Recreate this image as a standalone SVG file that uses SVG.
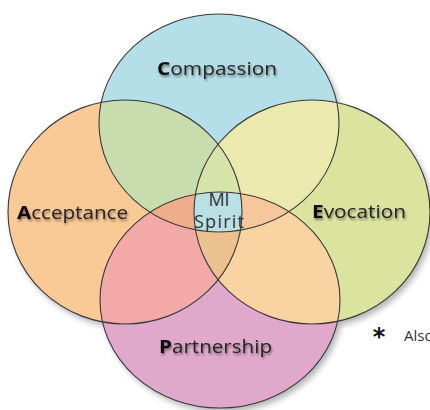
<svg xmlns="http://www.w3.org/2000/svg" width="430" height="410" viewBox="0 0 430 410">
<style>
.lbl{font-family:"Open Sans","Liberation Sans",sans-serif;font-size:18px;fill:#262626}
.b{font-weight:bold;fill:#111}
.mid{font-family:"Open Sans","Liberation Sans",sans-serif;font-size:18px;fill:#333}
.ol{fill:none;stroke:#3a3a3a;stroke-width:1.1}
</style>
<defs>
<ellipse id="eC" cx="219" cy="123" rx="120" ry="109"/>
<ellipse id="eA" cx="125" cy="212" rx="117" ry="112"/>
<ellipse id="eE" cx="312" cy="212" rx="118" ry="112"/>
<ellipse id="eP" cx="220" cy="300" rx="120" ry="108"/>
<clipPath id="cC"><use href="#eC"/></clipPath>
<clipPath id="cA"><use href="#eA"/></clipPath>
<clipPath id="cE"><use href="#eE"/></clipPath>
<clipPath id="cP"><use href="#eP"/></clipPath>
<filter id="shadow" x="-10%" y="-10%" width="130%" height="130%">
<feGaussianBlur stdDeviation="3"/>
<feOffset dx="3" dy="4"/>
</filter>
<filter id="tsh" x="-10%" y="-30%" width="120%" height="180%">
<feGaussianBlur in="SourceAlpha" stdDeviation="1.3"/>
<feOffset dx="1" dy="2" result="o"/>
<feComponentTransfer in="o" result="s"><feFuncA type="linear" slope="0.45"/></feComponentTransfer>
<feMerge><feMergeNode in="s"/><feMergeNode in="SourceGraphic"/></feMerge>
</filter>
</defs>
<rect width="430" height="410" fill="#ffffff"/>
<g id="shadows" filter="url(#shadow)" fill="#000" opacity="0.3">
<use href="#eC"/><use href="#eA"/><use href="#eE"/><use href="#eP"/>
</g>
<g id="fills">
<use href="#eA" fill="#f9c996"/>
<use href="#eE" fill="#dae49e"/>
<use href="#eC" fill="#b5dfe8"/>
<use href="#eP" fill="#e0a9cb"/>
</g>
<g id="overlaps">
<g clip-path="url(#cC)"><use href="#eA" fill="#c9dcae"/><use href="#eE" fill="#ebe9ad"/></g>
<g clip-path="url(#cP)"><use href="#eA" fill="#f2a9a8"/><use href="#eE" fill="#fad3a2"/></g>
<g clip-path="url(#cC)"><g clip-path="url(#cA)"><use href="#eE" fill="#d6e3a9"/></g></g>
<g clip-path="url(#cC)"><g clip-path="url(#cA)"><use href="#eP" fill="#efad8c"/></g></g>
<g clip-path="url(#cC)"><g clip-path="url(#cE)"><use href="#eP" fill="#f6c79c"/></g></g>
<g clip-path="url(#cA)"><g clip-path="url(#cE)"><use href="#eP" fill="#ebc28f"/></g></g>
<g clip-path="url(#cC)"><g clip-path="url(#cA)"><g clip-path="url(#cE)"><use href="#eP" fill="#b9e0e3"/></g></g></g>
</g>
<g id="compassion">
<use href="#eC" class="ol"/>
<text class="lbl" x="157" y="74.5" textLength="120" lengthAdjust="spacingAndGlyphs" filter="url(#tsh)"><tspan class="b">C</tspan>ompassion</text>
</g>
<g id="acceptance">
<use href="#eA" class="ol"/>
<text class="lbl" x="17" y="218.5" textLength="111" lengthAdjust="spacingAndGlyphs" filter="url(#tsh)"><tspan class="b">A</tspan>cceptance</text>
</g>
<g id="evocation">
<use href="#eE" class="ol"/>
<text class="lbl" x="312" y="217.5" textLength="94" lengthAdjust="spacingAndGlyphs" filter="url(#tsh)"><tspan class="b">E</tspan>vocation</text>
</g>
<g id="partnership">
<use href="#eP" class="ol"/>
<text class="lbl" x="159" y="353" textLength="113" lengthAdjust="spacingAndGlyphs" filter="url(#tsh)"><tspan class="b">P</tspan>artnership</text>
</g>
<g id="mi-spirit">
<text class="mid" x="219" y="205.5" text-anchor="middle">MI</text>
<text class="mid" x="194" y="227.5" textLength="50">Spirit</text>
</g>
<g id="note">
<text x="379" y="344.5" text-anchor="middle" font-family="DejaVu Sans" font-weight="bold" font-size="24" fill="#111">*</text>
<text x="404" y="340.5" font-family="Open Sans, Liberation Sans, sans-serif" font-size="15" fill="#333">Also</text>
</g>
</svg>
